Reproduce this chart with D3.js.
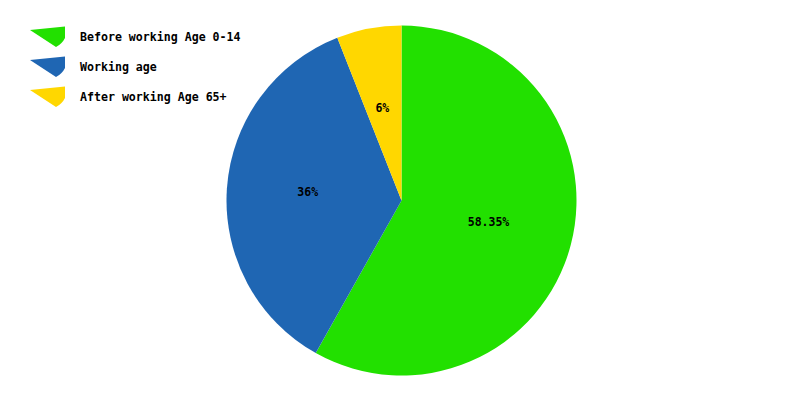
<!DOCTYPE html>
<html><head><meta charset="utf-8">
<script src="https://cdn.jsdelivr.net/npm/d3@7"></script>
<style>body{margin:0;background:#fff}svg{display:block}</style>
</head><body>
<svg id="c" width="800" height="400"></svg>
<script>
const categories = ["Before working Age 0-14", "Working age", "After working Age 65+"];
const values = [58.35, 36, 6];
const labels = ["58.35%", "36%", "6%"];
const colors = ["#22e000", "#1f66b3", "#ffd700"];

const svg = d3.select("#c");
const font = "'DejaVu Sans Mono', monospace";
const cx = 401.5, cy = 200.5, R = 175;
const data = categories.map((c, i) => ({c, v: values[i], l: labels[i], col: colors[i]}));
const pie = d3.pie().value(d => d.v).sort(null);
const arc = d3.arc().innerRadius(0).outerRadius(R);
const labArc = d3.arc().innerRadius(92).outerRadius(92);
const g = svg.append("g").attr("transform", `translate(${cx},${cy})`);
const arcs = pie(data);
g.selectAll("path").data(arcs).join("path").attr("d", arc).attr("fill", d => d.data.col);
g.selectAll("text").data(arcs).join("text")
  .attr("transform", d => { const [x, y] = labArc.centroid(d); return `translate(${x - 2},${y - 2})`; })
  .attr("text-anchor", "middle").attr("dy", "0.35em")
  .attr("font-family", font).attr("font-weight", "bold").attr("font-size", "11.5px")
  .attr("fill", "#000").text(d => d.data.l);

const leg = svg.append("g");
const rows = leg.selectAll("g").data(data).join("g")
  .attr("transform", (d, i) => `translate(0,${i * 30})`);
rows.append("path").attr("d", "M30,30 L65,26.5 L65,38 Q62,44 56,47 Z").attr("fill", d => d.col);
rows.append("text").attr("x", 80).attr("y", 41)
  .attr("font-family", font).attr("font-weight", "bold").attr("font-size", "11.6px")
  .attr("fill", "#000").text(d => d.c);
</script>
</body></html>
